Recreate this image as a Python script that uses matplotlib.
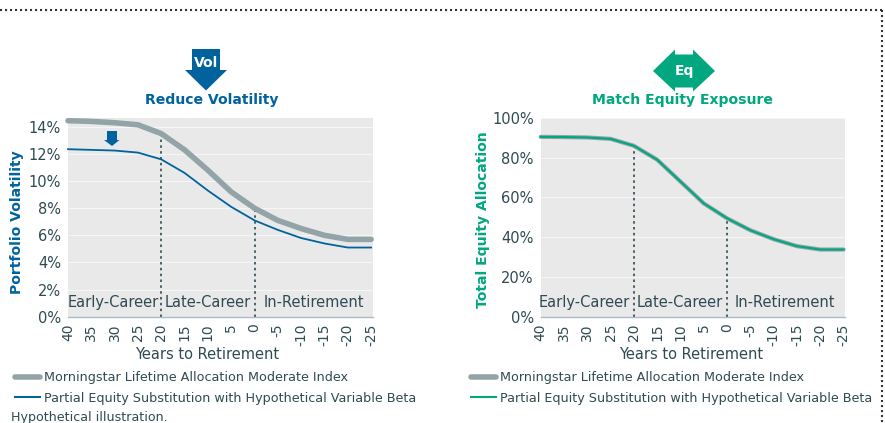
import matplotlib
matplotlib.use("Agg")
import matplotlib.pyplot as plt
from matplotlib.patches import Polygon
from matplotlib.lines import Line2D

W, H = 885, 423

years = [40, 35, 30, 25, 20, 15, 10, 5, 0, -5, -10, -15, -20, -25]
tick_labels = ["40", "35", "30", "25", "20", "15", "10", "5", "0", "-5", "-10", "-15", "-20", "-25"]

vol_index = [14.45, 14.4, 14.3, 14.15, 13.5, 12.3, 10.8, 9.2, 8.0, 7.1, 6.5, 6.0, 5.7, 5.7]
vol_beta = [12.35, 12.3, 12.25, 12.1, 11.6, 10.6, 9.3, 8.1, 7.1, 6.4, 5.8, 5.4, 5.1, 5.1]
eq_index = [90.5, 90.4, 90.2, 89.5, 86, 79, 68, 57, 49.5, 43.5, 39, 35.5, 33.8, 33.8]
eq_beta = [90.5, 90.4, 90.2, 89.5, 86, 79, 68, 57, 49.5, 43.5, 39, 35.5, 33.8, 33.8]

vol_ticks = [0, 2, 4, 6, 8, 10, 12, 14]
eq_ticks = [0, 20, 40, 60, 80, 100]

index_name = "Morningstar Lifetime Allocation Moderate Index"
beta_name = "Partial Equity Substitution with Hypothetical Variable Beta"

BLUE = "#00639e"
GREEN = "#00a77f"
GRAY = "#93a4a9"
TEXT = "#2f4a52"
PANEL = "#e9e9ea"

plt.rcParams["font.family"] = ["DejaVu Sans"]

fig = plt.figure(figsize=(W / 100, H / 100), dpi=100, facecolor="white")


def fx(x):
    return x / W


def fy(y):
    return 1 - y / H


def add_poly(points, color):
    fig.patches.append(Polygon([(fx(x), fy(y)) for x, y in points], closed=True,
                               facecolor=color, edgecolor="none",
                               transform=fig.transFigure, figure=fig))


def draw_panel(left, right, ymax, ticks, index_vals, beta_vals, color, ylabel, ylabel_x, ylabel_y,
               xlabel_x, legend_x, index_width, beta_width, phase_x):
    top, bottom = 118, 316.7
    ax = fig.add_axes([fx(left), fy(bottom), (right - left) / W, (bottom - top) / H])
    ax.set_facecolor(PANEL)
    ax.set_xlim(40, -25.3)
    ax.set_ylim(0, ymax)
    for name, spine in ax.spines.items():
        spine.set_visible(name == "bottom")
    ax.spines["bottom"].set_color("#a9bcc8")
    ax.spines["bottom"].set_linewidth(1)

    ax.set_yticks(ticks)
    ax.set_yticklabels(["%d%%" % t for t in ticks], fontsize=10.5, color=TEXT)
    ax.set_xticks(years)
    ax.set_xticklabels(tick_labels, rotation=90, fontsize=10, color=TEXT)
    ax.tick_params(axis="both", length=0, pad=5)
    ax.grid(axis="y", color="#f6f6f6", linewidth=0.8)
    ax.set_axisbelow(True)

    # dotted phase separators stop at the curve
    ax.vlines(20, 0, index_vals[years.index(20)], color=TEXT, linewidth=1.2, linestyles=(0, (1.5, 2)), zorder=2)
    ax.vlines(0, 0, index_vals[years.index(0)], color=TEXT, linewidth=1.2, linestyles=(0, (1.5, 2)), zorder=2)

    ax.plot(years, index_vals, color=GRAY, linewidth=index_width, solid_capstyle="round", clip_on=False, zorder=3)
    ax.plot(years, beta_vals, color=color, linewidth=beta_width, clip_on=False, zorder=4)

    names = ["Early-Career", "Late-Career", "In-Retirement"]
    for name, x in zip(names, phase_x):
        ax.text(x, ymax * 0.073, name, ha="center", va="center", fontsize=10.5, color=TEXT)

    fig.text(fx(ylabel_x), fy(ylabel_y), ylabel, rotation=90, ha="center", va="center",
             fontsize=10.1, fontweight="bold", color=color)
    fig.text(fx(xlabel_x), fy(354.5), "Years to Retirement", ha="center", va="center",
             fontsize=10.5, color=TEXT)

    handles = [Line2D([], [], color=GRAY, linewidth=4, solid_capstyle="round"),
               Line2D([], [], color=color, linewidth=1.5)]
    ax.legend(handles, [index_name, beta_name], loc="upper left",
              bbox_to_anchor=(fx(legend_x), fy(371)), bbox_transform=fig.transFigure,
              frameon=False, fontsize=9.2, labelcolor=TEXT, handlelength=1.95, handletextpad=0.3,
              labelspacing=0.6, borderpad=0, borderaxespad=0)
    return ax


draw_panel(68, 372.5, 14.65, vol_ticks, vol_index, vol_beta, BLUE, "Portfolio Volatility", 17, 222,
           207.5, 15, 4, 1.3, [30.2, 10, -12.7])
draw_panel(540.7, 845, 100, eq_ticks, eq_index, eq_beta, GREEN, "Total Equity Allocation", 483.5, 220,
           691.5, 471, 3, 1.5, [30.6, 10.1, -12.5])

# header icons and titles
add_poly([(192, 49), (220, 49), (220, 70), (227, 70), (206, 90.5), (185, 70), (192, 70)], BLUE)
fig.text(fx(206), fy(63), "Vol", ha="center", va="center", fontsize=10, fontweight="bold", color="white")
fig.text(fx(211.5), fy(100), "Reduce Volatility", ha="center", va="center", fontsize=10.1, fontweight="bold", color=BLUE)

add_poly([(653, 71), (675, 49.5), (675, 54.5), (693, 54.5), (693, 49.5), (715, 71), (693, 91.5),
          (693, 87.5), (675, 87.5), (675, 91.5)], GREEN)
fig.text(fx(684), fy(71), "Eq", ha="center", va="center", fontsize=10, fontweight="bold", color="white")
fig.text(fx(682), fy(100), "Match Equity Exposure", ha="center", va="center", fontsize=10.1, fontweight="bold", color=GREEN)

# small down arrow in the volatility panel
add_poly([(107, 131), (117, 131), (117, 140), (119.5, 140), (112, 146), (104, 140), (107, 140)], BLUE)

fig.text(fx(11), fy(417), "Hypothetical illustration.", ha="left", va="center", fontsize=9.1, color=TEXT)

# dotted page border, top and right
fig.add_artist(Line2D([0, fx(881.5)], [fy(10.5), fy(10.5)], color="#333333", linewidth=1.5, linestyle=(0, (1, 1.4))))
fig.add_artist(Line2D([fx(881.5), fx(881.5)], [fy(10.5), 0], color="#333333", linewidth=1.5, linestyle=(0, (1, 1.4))))

fig.savefig("out.png", dpi=100)
